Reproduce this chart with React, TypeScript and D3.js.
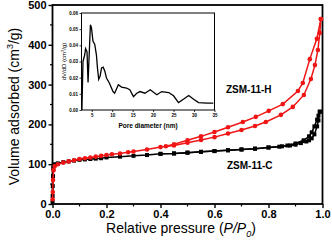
import React, { useRef, useEffect } from 'react';
import * as d3 from 'd3';

// ZSM-11-H isotherm (red), adsorption and desorption branches
const hAdsP = [0.0005, 0.001, 0.002, 0.004, 0.008, 0.02, 0.04, 0.06, 0.08, 0.1, 0.12, 0.14, 0.16, 0.18, 0.2, 0.22, 0.25, 0.28, 0.3, 0.35, 0.4, 0.45, 0.5, 0.55, 0.6, 0.65, 0.7, 0.75, 0.79, 0.846, 0.89, 0.931, 0.957, 0.972, 0.983, 0.99, 0.994];
const hAdsV = [12, 30, 60, 85, 95, 100, 104, 107, 110, 113, 115, 117, 119, 121, 123, 125, 127, 130, 132, 137, 143, 147, 154, 161, 168, 177, 186, 196, 206, 224, 244, 274, 314, 349, 387, 430, 465];
const hDesP = [0.994, 0.979, 0.953, 0.927, 0.909, 0.853, 0.801, 0.753, 0.705, 0.65, 0.6, 0.55, 0.5, 0.45, 0.42];
const hDesV = [465, 415, 364, 304, 284, 251, 234, 219, 206, 193, 181, 170, 160, 150, 145];

// ZSM-11-C isotherm (black)
const cAdsP = [0.0002, 0.0005, 0.001, 0.002, 0.003, 0.005, 0.01, 0.02, 0.04, 0.06, 0.08, 0.1, 0.12, 0.14, 0.16, 0.18, 0.2, 0.25, 0.3, 0.35, 0.4, 0.45, 0.5, 0.55, 0.6, 0.65, 0.7, 0.75, 0.8, 0.85, 0.88, 0.9, 0.92, 0.94, 0.95, 0.96, 0.97, 0.98, 0.985, 0.99];
const cAdsV = [5, 20, 45, 70, 90, 98, 100, 102, 105, 107, 109, 111, 112, 113, 114, 115, 117, 119, 121, 123, 126, 127, 129, 131, 133, 135, 137, 139, 142, 145, 147, 149, 153, 157, 160, 165, 175, 195, 210, 232];
const cDesP = [0.99, 0.985, 0.98, 0.97, 0.96, 0.95, 0.93, 0.9, 0.87, 0.84, 0.8, 0.75, 0.7, 0.65, 0.6, 0.55, 0.5, 0.45, 0.4];
const cDesV = [232, 222, 212, 195, 180, 170, 160, 152, 147, 144, 142, 139, 137, 135, 133, 131, 129, 127, 126];

// inset: pore size distribution
const poreD = [2.6, 2.86, 3.28, 3.5, 3.85, 4.1, 4.68, 4.93, 5.3, 5.74, 6.15, 6.4, 6.7, 7.05, 7.4, 7.8, 8.2, 8.6, 9.3, 10.2, 10.6, 11.5, 12.3, 13.5, 14.3, 15.2, 16, 16.8, 18, 19.3, 20.9, 22.1, 23.8, 25, 26.2, 27.4, 28.7, 29.9, 31.1, 33.2, 34.7];
const poreV = [0.0, 0.030, 0.034, 0.038, 0.036, 0.017, 0.0527, 0.051, 0.0427, 0.0406, 0.034, 0.026, 0.019, 0.021, 0.026, 0.0265, 0.024, 0.0198, 0.0167, 0.0114, 0.0104, 0.0156, 0.0142, 0.0136, 0.0125, 0.0083, 0.0104, 0.0114, 0.0104, 0.0125, 0.0094, 0.0114, 0.0108, 0.0088, 0.0046, 0.0067, 0.009, 0.0067, 0.0046, 0.0042, 0.0042];

const xTicks = [0, 0.2, 0.4, 0.6, 0.8, 1.0];
const yTicks = [0, 100, 200, 300, 400, 500];
const insetXTicks = [5, 10, 15, 20, 25, 30, 35];
const insetYTicks = [0, 0.01, 0.02, 0.03, 0.04, 0.05, 0.06];

const FONT = 'Liberation Sans, Arial, sans-serif';

const zip = (xs: number[], ys: number[]) => xs.map((x, i) => [x, ys[i]] as [number, number]);

const App = () => {
  const svgRef = useRef<SVGSVGElement>(null);

  useEffect(() => {
    const svg = d3.select(svgRef.current);
    svg.selectAll('*').remove();

    const left = 52.5, right = 322.5, top = 5, bottom = 204;
    const x = d3.scaleLinear().domain([0, 1]).range([left, right]);
    const y = d3.scaleLinear().domain([0, 500]).range([bottom, top]);

    // minor ticks
    const g = svg.append('g');
    g.selectAll('.xminor').data([0.1, 0.3, 0.5, 0.7, 0.9]).enter().append('line')
      .attr('x1', d => x(d)).attr('x2', d => x(d)).attr('y1', bottom).attr('y2', bottom + 2.5)
      .attr('stroke', '#000').attr('stroke-width', 1.2);
    g.selectAll('.yminor').data([50, 150, 250, 350, 450]).enter().append('line')
      .attr('y1', d => y(d)).attr('y2', d => y(d)).attr('x1', left).attr('x2', left - 2.5)
      .attr('stroke', '#000').attr('stroke-width', 1.2);

    const xAxis = svg.append('g')
      .attr('transform', `translate(0,${bottom})`)
      .call(d3.axisBottom(x).tickValues(xTicks).tickFormat(d3.format('.1f')).tickSize(4).tickPadding(2));
    const yAxis = svg.append('g')
      .attr('transform', `translate(${left},0)`)
      .call(d3.axisLeft(y).tickValues(yTicks).tickSize(4).tickPadding(2));
    [xAxis, yAxis].forEach(a => {
      a.select('.domain').remove();
      a.selectAll('line').attr('stroke', '#000').attr('stroke-width', 1.4);
      a.selectAll('text').attr('font-family', FONT).attr('font-size', 11).attr('font-weight', 'bold').attr('fill', '#000');
    });

    // frame
    svg.append('rect')
      .attr('x', left).attr('y', top).attr('width', right - left).attr('height', bottom - top)
      .attr('fill', 'none').attr('stroke', '#000').attr('stroke-width', 1.8);

    const line = d3.line<[number, number]>().x(d => x(d[0])).y(d => y(d[1]));

    const drawSeries = (pts: [number, number][], color: string, marker: string) => {
      svg.append('path').datum(pts)
        .attr('fill', 'none').attr('stroke', color).attr('stroke-width', 1.5).attr('d', line);
      if (marker === 'circle') {
        svg.append('g').selectAll('circle').data(pts).enter().append('circle')
          .attr('cx', d => x(d[0])).attr('cy', d => y(d[1])).attr('r', 2.3).attr('fill', color);
      } else {
        svg.append('g').selectAll('rect').data(pts).enter().append('rect')
          .attr('x', d => x(d[0]) - 2).attr('y', d => y(d[1]) - 2)
          .attr('width', 4).attr('height', 4).attr('fill', color);
      }
    };

    drawSeries(zip(cAdsP, cAdsV), '#000', 'square');
    drawSeries(zip(cDesP, cDesV), '#000', 'square');
    drawSeries(zip(hAdsP, hAdsV), '#f01515', 'circle');
    drawSeries(zip(hDesP, hDesV), '#f01515', 'circle');

    // series labels
    svg.append('text').attr('x', 226).attr('y', 93).text('ZSM-11-H')
      .attr('font-family', FONT).attr('font-size', 10).attr('font-weight', 'bold');
    svg.append('text').attr('x', 227).attr('y', 169).text('ZSM-11-C')
      .attr('font-family', FONT).attr('font-size', 10).attr('font-weight', 'bold');

    // axis titles
    const xt = svg.append('text').attr('x', 181).attr('y', 233).attr('text-anchor', 'middle')
      .attr('font-family', FONT).attr('font-size', 14);
    xt.append('tspan').text('Relative pressure (');
    xt.append('tspan').attr('font-style', 'italic').text('P/P');
    xt.append('tspan').attr('font-style', 'italic').attr('font-size', 9).attr('dy', 4).text('0');
    xt.append('tspan').attr('dy', -4).text(')');

    const yt = svg.append('text').attr('transform', `translate(19,${(top + bottom) / 2 + 2}) rotate(-90)`)
      .attr('text-anchor', 'middle').attr('font-family', FONT).attr('font-size', 14);
    yt.append('tspan').text('Volume adsorbed (cm');
    yt.append('tspan').attr('font-size', 9).attr('dy', -6).text('3');
    yt.append('tspan').attr('dy', 6).text('/g)');

    // inset
    const il = 81.5, ir = 214.5, it = 13, ib = 110;
    const ix = d3.scaleLinear().domain([2.5, 35]).range([il, ir]);
    const iy = d3.scaleLinear().domain([0, 0.06]).range([ib, it]);

    svg.append('rect').attr('x', il).attr('y', it).attr('width', ir - il).attr('height', ib - it)
      .attr('fill', '#fff').attr('stroke', '#000').attr('stroke-width', 1);

    const ixAxis = svg.append('g').attr('transform', `translate(0,${ib})`)
      .call(d3.axisBottom(ix).tickValues(insetXTicks).tickSize(2).tickPadding(1.5));
    const iyAxis = svg.append('g').attr('transform', `translate(${il},0)`)
      .call(d3.axisLeft(iy).tickValues(insetYTicks).tickFormat(d3.format('.2f')).tickSize(2).tickPadding(1.5));
    [ixAxis, iyAxis].forEach(a => {
      a.select('.domain').remove();
      a.selectAll('line').attr('stroke', '#000').attr('stroke-width', 0.8);
      a.selectAll('text').attr('font-family', FONT).attr('font-size', 4.5).attr('font-weight', 'bold').attr('fill', '#000');
    });

    const iline = d3.line<[number, number]>().x(d => ix(d[0])).y(d => iy(d[1]));
    svg.append('path').datum(zip(poreD, poreV))
      .attr('fill', 'none').attr('stroke', '#000').attr('stroke-width', 1.3).attr('d', iline);

    svg.append('text').attr('x', (il + ir) / 2).attr('y', 128).attr('text-anchor', 'middle')
      .attr('font-family', FONT).attr('font-size', 6.5).attr('font-weight', 'bold').text('Pore diameter (nm)');

    const iyt = svg.append('text').attr('transform', `translate(66,${(it + ib) / 2}) rotate(-90)`)
      .attr('text-anchor', 'middle').attr('font-family', FONT).attr('font-size', 6);
    iyt.append('tspan').text('dV/dD (cm');
    iyt.append('tspan').attr('font-size', 4).attr('dy', -2.5).text('3');
    iyt.append('tspan').attr('dy', 2.5).text('/g)');
  }, []);

  return (
    <svg ref={svgRef} width={332} height={244}
      style={{ position: 'absolute', left: 0, top: 0, background: '#fff' }} />
  );
};

export default App;
